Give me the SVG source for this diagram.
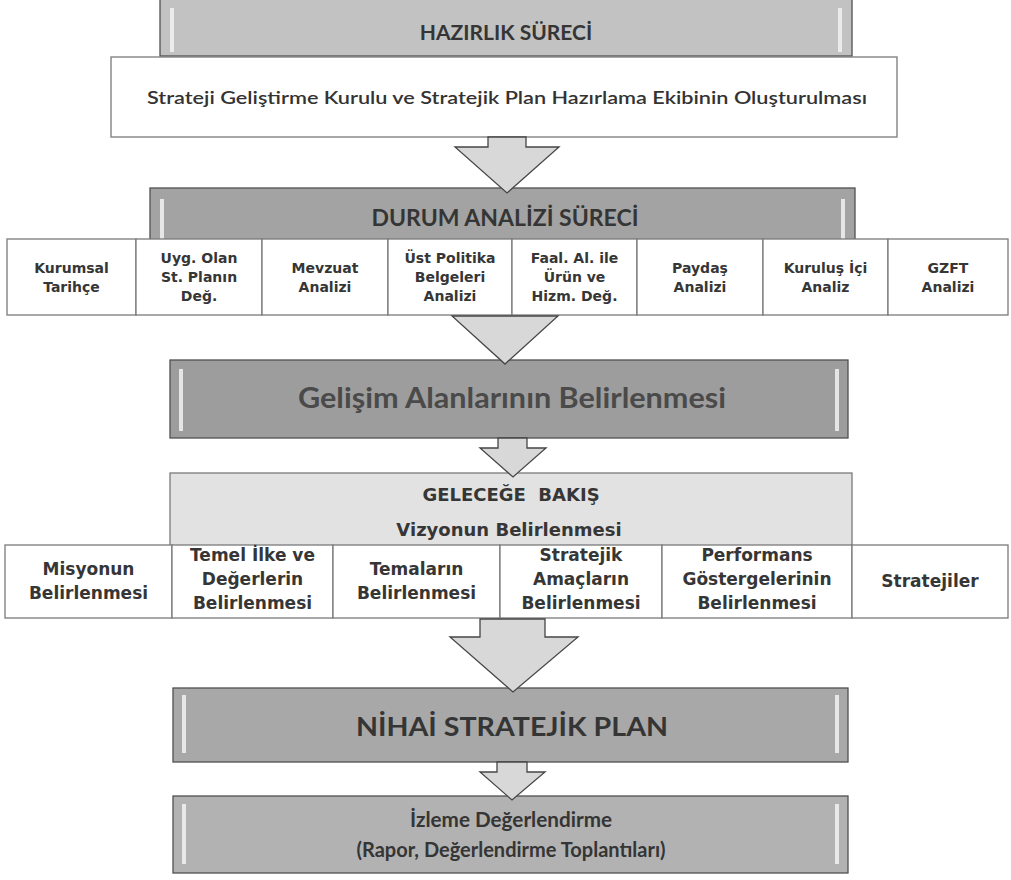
<svg xmlns="http://www.w3.org/2000/svg" width="1011" height="880" viewBox="0 0 1011 880">
<style>
.hdr{stroke:#505050;stroke-width:1.3}
.bev{fill:#f2f2f2;opacity:.85}
.box{fill:#ffffff;stroke:#7a7a7a;stroke-width:1.3}
.arr{fill:#d8d8d8;stroke:#454545;stroke-width:1.3;stroke-linejoin:miter}
.th{font-family:Lato,"Open Sans","Liberation Sans",sans-serif;font-weight:bold;fill:#353535;text-anchor:middle}
.tr{font-family:"DejaVu Sans",Verdana,sans-serif;font-weight:bold;fill:#363636;text-anchor:middle;font-size:14px}
.tr2{font-family:"DejaVu Sans",Verdana,sans-serif;font-weight:bold;fill:#363636;text-anchor:middle;font-size:17px}
</style>
<rect x="0" y="0" width="1011" height="880" fill="#ffffff"/>

<g id="hazirlik">
<rect class="hdr" x="160" y="-2" width="692" height="58" fill="#c2c2c2"/>
<rect class="bev" x="170" y="8" width="4" height="44"/>
<rect class="bev" x="838" y="8" width="4" height="44"/>
<text class="th" x="506" y="40" font-size="21">HAZIRLIK SÜRECİ</text>
</g>

<g id="kurul">
<rect class="box" x="111" y="57" width="786" height="80"/>
<text class="th" x="507" y="104" font-size="16.5" textLength="720" lengthAdjust="spacingAndGlyphs" style="font-weight:600;fill:#333">Strateji Geliştirme Kurulu ve Stratejik Plan Hazırlama Ekibinin Oluşturulması</text>
</g>

<g id="durum">
<rect class="hdr" x="150" y="188" width="705" height="54" fill="#a3a3a3"/>
<rect class="bev" x="160" y="199" width="4" height="40"/>
<rect class="bev" x="841" y="199" width="4" height="40"/>
<text class="th" x="505" y="226" font-size="23">DURUM ANALİZİ SÜRECİ</text>
</g>

<g id="durum-row">
<rect class="box" x="7" y="239" width="129" height="76"/>
<rect class="box" x="136" y="239" width="126" height="76"/>
<rect class="box" x="262" y="239" width="126" height="76"/>
<rect class="box" x="388" y="239" width="124" height="76"/>
<rect class="box" x="512" y="239" width="125" height="76"/>
<rect class="box" x="637" y="239" width="126" height="76"/>
<rect class="box" x="763" y="239" width="125" height="76"/>
<rect class="box" x="888" y="239" width="120" height="76"/>
<text class="tr" x="71.5" y="272.5">Kurumsal</text>
<text class="tr" x="71.5" y="291.5">Tarihçe</text>
<text class="tr" x="199" y="263">Uyg. Olan</text>
<text class="tr" x="199" y="282">St. Planın</text>
<text class="tr" x="199" y="301">Değ.</text>
<text class="tr" x="325" y="272.5">Mevzuat</text>
<text class="tr" x="325" y="291.5">Analizi</text>
<text class="tr" x="450" y="263">Üst Politika</text>
<text class="tr" x="450" y="282">Belgeleri</text>
<text class="tr" x="450" y="301">Analizi</text>
<text class="tr" x="574.5" y="263">Faal. Al. ile</text>
<text class="tr" x="574.5" y="282">Ürün ve</text>
<text class="tr" x="574.5" y="301">Hizm. Değ.</text>
<text class="tr" x="700" y="272.5">Paydaş</text>
<text class="tr" x="700" y="291.5">Analizi</text>
<text class="tr" x="825.5" y="272.5">Kuruluş İçi</text>
<text class="tr" x="825.5" y="291.5">Analiz</text>
<text class="tr" x="948" y="272.5">GZFT</text>
<text class="tr" x="948" y="291.5">Analizi</text>
</g>

<g id="gelisim">
<rect class="hdr" x="170" y="360" width="678" height="78" fill="#9d9d9d"/>
<rect class="bev" x="179" y="369" width="4" height="62"/>
<rect class="bev" x="835" y="369" width="4" height="62"/>
<text class="th" x="512" y="408" font-size="28" textLength="428" lengthAdjust="spacingAndGlyphs" style="fill:#4a4a4a">Gelişim Alanlarının Belirlenmesi</text>
</g>

<g id="gelecege">
<rect class="box" x="170" y="473" width="682" height="74" style="fill:#e2e2e2"/>
<text class="tr2" x="511" y="501" style="font-size:18px">GELECEĞE&#160; BAKIŞ</text>
<text class="tr2" x="509" y="536" style="font-size:18px">Vizyonun Belirlenmesi</text>
</g>

<g id="gelecek-row">
<rect class="box" x="5" y="545" width="167" height="73"/>
<rect class="box" x="172" y="545" width="161" height="73"/>
<rect class="box" x="333" y="545" width="167" height="73"/>
<rect class="box" x="500" y="545" width="162" height="73"/>
<rect class="box" x="662" y="545" width="190" height="73"/>
<rect class="box" x="852" y="545" width="156" height="73"/>
<text class="tr2" x="88.5" y="575">Misyonun</text>
<text class="tr2" x="88.5" y="599">Belirlenmesi</text>
<text class="tr2" x="252.5" y="561">Temel İlke ve</text>
<text class="tr2" x="252.5" y="585">Değerlerin</text>
<text class="tr2" x="252.5" y="609">Belirlenmesi</text>
<text class="tr2" x="416.5" y="575">Temaların</text>
<text class="tr2" x="416.5" y="599">Belirlenmesi</text>
<text class="tr2" x="581" y="561">Stratejik</text>
<text class="tr2" x="581" y="585">Amaçların</text>
<text class="tr2" x="581" y="609">Belirlenmesi</text>
<text class="tr2" x="757" y="561">Performans</text>
<text class="tr2" x="757" y="585">Göstergelerinin</text>
<text class="tr2" x="757" y="609">Belirlenmesi</text>
<text class="tr2" x="930" y="587">Stratejiler</text>
</g>

<g id="nihai">
<rect class="hdr" x="173" y="688" width="675" height="74" fill="#a8a8a8"/>
<rect class="bev" x="182" y="695" width="4" height="58"/>
<rect class="bev" x="835" y="695" width="4" height="58"/>
<text class="th" x="512" y="736" font-size="26" textLength="312" lengthAdjust="spacingAndGlyphs">NİHAİ STRATEJİK PLAN</text>
</g>

<g id="izleme">
<rect class="hdr" x="173" y="796" width="675" height="77" fill="#b2b2b2"/>
<rect class="bev" x="182" y="804" width="4" height="60"/>
<rect class="bev" x="835" y="804" width="4" height="60"/>
<text class="th" x="511" y="827" font-size="20" textLength="202" lengthAdjust="spacingAndGlyphs">İzleme Değerlendirme</text>
<text class="th" x="511" y="857" font-size="20" textLength="309" lengthAdjust="spacingAndGlyphs">(Rapor, Değerlendirme Toplantıları)</text>
</g>

<g id="connectors">
<polygon class="arr" points="488,137 526,137 526,147 559,147 507,193 455,147 488,147"/>
<polygon class="arr" points="452,316 558,316 505,364"/>
<polygon class="arr" points="498,438 527,438 527,448 546,448 513,477 480,448 498,448"/>
<polygon class="arr" points="480,619 545,619 545,637 578,637 513,692 450,637 480,637"/>
<polygon class="arr" points="497,762 527,762 527,772 545,772 512,800 480,772 497,772"/>
</g>
</svg>
